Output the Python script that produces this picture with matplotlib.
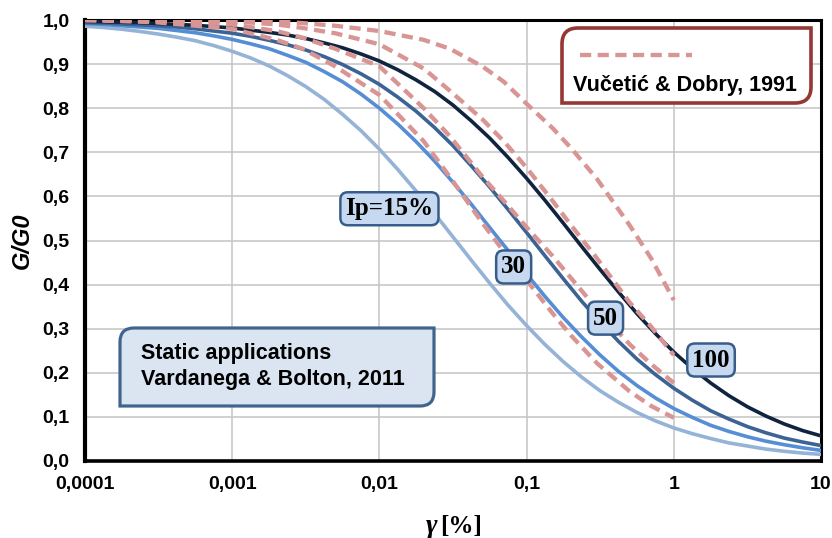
import matplotlib.pyplot as plt
from matplotlib.path import Path
from matplotlib.patches import PathPatch
from matplotlib.lines import Line2D

# shear strain [%] where the solid curves were read
gamma_vb = [0.0001, 0.0001334, 0.0001778, 0.0002371, 0.0003162, 0.0004217, 0.0005623, 0.0007499,
            0.001, 0.001334, 0.001778, 0.002371, 0.003162, 0.004217, 0.005623, 0.007499,
            0.01, 0.01334, 0.01778, 0.02371, 0.03162, 0.04217, 0.05623, 0.07499,
            0.1, 0.1334, 0.1778, 0.2371, 0.3162, 0.4217, 0.5623, 0.7499,
            1.0, 1.334, 1.778, 2.371, 3.162, 4.217, 5.623, 7.499, 10.0]

# Vardanega & Bolton, 2011 (solid)
vb_ip15 = [0.986, 0.983, 0.979, 0.974, 0.968, 0.961, 0.953, 0.942, 0.929, 0.914, 0.896,
           0.874, 0.849, 0.820, 0.786, 0.749, 0.707, 0.661, 0.612, 0.561, 0.508, 0.455,
           0.403, 0.353, 0.307, 0.264, 0.225, 0.190, 0.159, 0.133, 0.110, 0.091, 0.075,
           0.062, 0.051, 0.041, 0.034, 0.027, 0.022, 0.018, 0.015]
vb_ip30 = [0.992, 0.990, 0.987, 0.984, 0.981, 0.976, 0.971, 0.964, 0.956, 0.946, 0.935,
           0.920, 0.904, 0.883, 0.860, 0.832, 0.800, 0.764, 0.724, 0.680, 0.632, 0.582,
           0.529, 0.477, 0.424, 0.373, 0.325, 0.281, 0.240, 0.203, 0.171, 0.143, 0.119,
           0.099, 0.081, 0.067, 0.055, 0.045, 0.037, 0.030, 0.024]
vb_ip50 = [0.994, 0.993, 0.991, 0.989, 0.987, 0.984, 0.980, 0.975, 0.970, 0.963, 0.954,
           0.944, 0.932, 0.917, 0.899, 0.878, 0.854, 0.825, 0.793, 0.756, 0.715, 0.669,
           0.621, 0.570, 0.518, 0.465, 0.413, 0.362, 0.315, 0.271, 0.231, 0.196, 0.165,
           0.138, 0.114, 0.095, 0.078, 0.064, 0.052, 0.043, 0.035]
vb_ip100 = [0.997, 0.996, 0.995, 0.994, 0.992, 0.990, 0.988, 0.985, 0.982, 0.977, 0.972,
            0.966, 0.958, 0.948, 0.937, 0.923, 0.907, 0.887, 0.864, 0.838, 0.807, 0.771,
            0.732, 0.688, 0.641, 0.591, 0.539, 0.486, 0.434, 0.383, 0.334, 0.289, 0.247,
            0.210, 0.177, 0.148, 0.123, 0.102, 0.084, 0.069, 0.057]

# Vucetic & Dobry, 1991 (dashed)
gamma_vd = [0.0001, 0.0003, 0.001, 0.002, 0.003, 0.005, 0.01, 0.02, 0.03, 0.05, 0.07,
            0.1, 0.15, 0.2, 0.3, 0.5, 0.7, 1.0]
vd_ip15 = [1.0, 0.995, 0.98, 0.955, 0.935, 0.895, 0.83, 0.725, 0.645, 0.54, 0.475,
           0.41, 0.335, 0.285, 0.222, 0.158, 0.125, 0.098]
vd_ip30 = [1.0, 0.998, 0.99, 0.975, 0.96, 0.935, 0.895, 0.80, 0.737, 0.645, 0.59,
           0.53, 0.465, 0.415, 0.345, 0.265, 0.22, 0.177]
vd_ip50 = [1.0, 1.0, 0.997, 0.99, 0.982, 0.97, 0.945, 0.89, 0.84, 0.775, 0.725,
           0.665, 0.59, 0.535, 0.46, 0.36, 0.305, 0.24]
vd_ip100 = [1.0, 1.0, 1.0, 0.997, 0.993, 0.987, 0.975, 0.955, 0.935, 0.895, 0.86,
            0.81, 0.755, 0.71, 0.64, 0.535, 0.46, 0.365]

x_ticks = [0.0001, 0.001, 0.01, 0.1, 1, 10]
x_labels = ["0,0001", "0,001", "0,01", "0,1", "1", "10"]
y_ticks = [0.0, 0.1, 0.2, 0.3, 0.4, 0.5, 0.6, 0.7, 0.8, 0.9, 1.0]
y_labels = ["0,0", "0,1", "0,2", "0,3", "0,4", "0,5", "0,6", "0,7", "0,8", "0,9", "1,0"]

# curve labels: text, gamma, G/G0
curve_labels = [("Ip=15%", 0.0117, 0.572), ("30", 0.0817, 0.44),
                ("50", 0.344, 0.324), ("100", 1.79, 0.229)]

W, H, DPI = 832, 538, 100
fig = plt.figure(figsize=(W / DPI, H / DPI), dpi=DPI)
ax = fig.add_axes([85 / W, 1 - 461 / H, (821 - 85) / W, (461 - 20) / H])

solid = [(vb_ip15, "#95b3d7"), (vb_ip30, "#558ed5"), (vb_ip50, "#3b6394"), (vb_ip100, "#10243f")]
for vals, col in solid:
    ax.plot(gamma_vb, vals, color=col, lw=2.6, solid_joinstyle="round", zorder=3)

dash = (0, (2.6, 1.5))
for vals in (vd_ip15, vd_ip30, vd_ip50, vd_ip100):
    ax.plot(gamma_vd, vals, color="#d99594", lw=3.1, ls=dash, zorder=4)

ax.set_xscale("log")
ax.set_xlim(0.0001, 10)
ax.set_ylim(0, 1)
ax.set_xticks(x_ticks)
ax.set_xticklabels(x_labels)
ax.set_yticks(y_ticks)
ax.set_yticklabels(y_labels)
ax.minorticks_off()
ax.tick_params(length=0)
ax.tick_params(axis="x", pad=11, labelsize=14)
ax.tick_params(axis="y", pad=11, labelsize=14)
for lab in ax.get_xticklabels() + ax.get_yticklabels():
    lab.set_fontfamily("Liberation Sans")
    lab.set_fontweight("bold")
ax.grid(True, color="#c4c4c4", lw=1.1)
ax.set_axisbelow(True)
ax.spines["left"].set_linewidth(3.0)
ax.spines["bottom"].set_linewidth(2.6)
ax.spines["top"].set_linewidth(2.2)
ax.spines["right"].set_linewidth(2.2)

for txt, gx, gy in curve_labels:
    ax.text(gx, gy, txt, ha="center", va="center", fontsize=18, fontweight="bold",
            family="Liberation Serif", zorder=6,
            bbox=dict(boxstyle="round,pad=0.2,rounding_size=0.3", fc="#c6d9f1",
                      ec="#385d8a", lw=1.8))


def px(x, y):
    return x / DPI, (H - y) / DPI


def diag_box(x0, y0, x1, y1, r, fc, ec, lw):
    verts = [px(x0, y0 + r), px(x0, y0), px(x0 + r, y0), px(x1, y0), px(x1, y1 - r),
             px(x1, y1), px(x1 - r, y1), px(x0, y1), px(x0, y0 + r)]
    codes = [Path.MOVETO, Path.CURVE3, Path.CURVE3, Path.LINETO, Path.LINETO,
             Path.CURVE3, Path.CURVE3, Path.LINETO, Path.CLOSEPOLY]
    patch = PathPatch(Path(verts, codes), fc=fc, ec=ec, lw=lw,
                      transform=fig.dpi_scale_trans, zorder=5)
    fig.add_artist(patch)


def ftext(x, y, s, **kw):
    fig.text(*px(x, y), s, transform=fig.dpi_scale_trans, **kw)


# Vardanega & Bolton box
diag_box(120, 328, 434, 406, 14, "#dbe5f1", "#41648f", 2.3)
ftext(141, 353, "Static applications", ha="left", va="center", fontsize=15.5,
      fontweight="bold", family="Liberation Sans", zorder=6)
ftext(141, 379, "Vardanega & Bolton, 2011", ha="left", va="center", fontsize=15.5,
      fontweight="bold", family="Liberation Sans", zorder=6)

# Vucetic & Dobry legend box
diag_box(562, 28, 811, 103, 16, "white", "#953735", 2.6)
leg = Line2D([580 / DPI, 692 / DPI], [(H - 55) / DPI, (H - 55) / DPI], color="#d99594",
             lw=3.1, ls=dash, transform=fig.dpi_scale_trans, zorder=6)
fig.add_artist(leg)
ftext(573, 85, "Vučetić & Dobry, 1991", ha="left", va="center", fontsize=15.5,
      fontweight="bold", family="Liberation Sans", zorder=6)

# axis titles
ftext(22, 241, "G/G0", ha="center", va="center", rotation=90, fontsize=17,
      fontweight="bold", style="italic", family="Liberation Sans")
ftext(437, 533, "γ", ha="right", va="baseline", fontsize=20, fontweight="bold",
      style="italic", family="Liberation Serif")
ftext(440, 533, "[%]", ha="left", va="baseline", fontsize=18, fontweight="bold",
      family="Liberation Serif")

fig.savefig("out.png", dpi=DPI)
